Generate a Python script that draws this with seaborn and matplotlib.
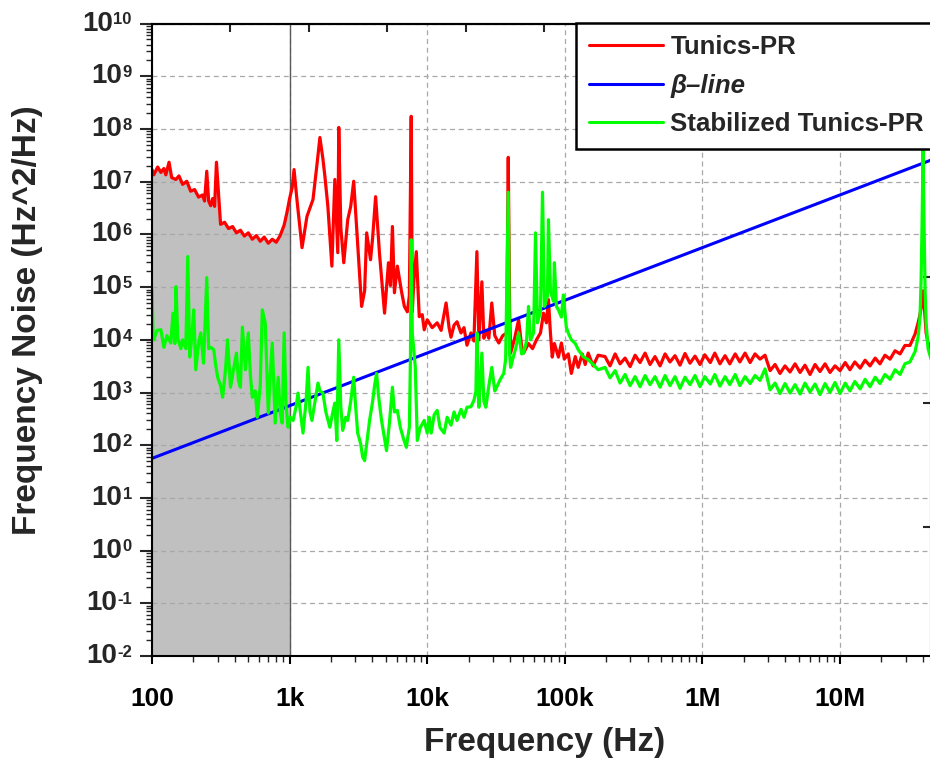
import numpy as np
import pandas as pd
import matplotlib
matplotlib.use("Agg")
import matplotlib.pyplot as plt
import seaborn as sns
from matplotlib import font_manager
from matplotlib.ticker import FixedLocator, LogLocator, NullFormatter, NullLocator

# ---------------- data ----------------
# Tunics-PR (free running laser), 100 Hz .. 175 kHz
red_freq_low = [100, 103, 110, 116, 122, 126, 133, 139, 149, 157,
                167, 179, 191, 204, 218, 233, 241, 250, 258, 267,
                276, 285, 294, 305, 315, 337, 360, 385, 411, 439,
                469, 501, 536, 573, 612, 654, 700, 748, 799, 854,
                913, 959, 1000, 1043, 1077, 1133, 1231, 1337, 1479, 1580,
                1660, 1746, 1805, 1897, 2028, 2131, 2239, 2276, 2355, 2475,
                2644, 2780, 2922, 3070, 3336, 3508, 3631, 3873, 4010, 4216,
                4500, 4897, 5229, 5408, 5586, 5776, 6068, 6490, 6821, 7170,
                7414, 7650, 7790, 8000, 8330, 8750, 9200, 9510, 10000, 10870,
                11810, 12620, 13710, 14410, 14890, 15670, 16470, 17600, 18500, 19450,
                20790, 21840, 22960, 23730, 24950, 25800, 26670, 28040, 29450, 30970,
                33110, 35380, 37840, 38800, 39700, 40370, 43200, 46130, 48530, 50120,
                54450, 58240, 62230, 66530, 69950, 73500, 75990, 78570, 81000, 83970,
                89790, 94420, 99100, 105900, 111500, 119100, 125100, 133800, 140600, 147800,
                160600, 174600]
red_noise_low = [1.7e7, 1.35e7, 1.9e7, 1.5e7, 1.78e7, 1.35e7, 2.34e7, 1.2e7, 1.1e7, 1.29e7,
                 8.9e6, 1.02e7, 6.6e6, 7.1e6, 5.1e6, 5.6e6, 4.3e6, 1.58e7, 4.3e6, 3.5e6,
                 4.8e6, 3.4e6, 2.34e7, 5.4e6, 1.55e6, 1.7e6, 1.29e6, 1.41e6, 1.07e6, 1.2e6,
                 9.3e5, 1.07e6, 8.1e5, 9.5e5, 7.4e5, 8.9e5, 6.8e5, 8.1e5, 7.1e5, 9.5e5,
                 1.51e6, 2.7e6, 4.8e6, 7.6e6, 1.7e7, 4.3e6, 5.6e5, 2.2e6, 4.6e6, 2.1e7,
                 6.9e7, 2.7e7, 1.26e7, 3.4e6, 2.5e5, 1.1e7, 4.5e5, 1.07e8, 1.35e6, 2.9e5,
                 1.9e6, 3.4e6, 1.02e7, 1.35e6, 4.3e4, 8.5e4, 1.07e6, 3.3e5, 8.5e5, 5.2e6,
                 4.3e5, 3.2e4, 2.9e5, 1.07e5, 1.41e6, 7.8e4, 2.5e5, 8.5e4, 4.3e4, 3.4e4,
                 6.8e4, 1.74e8, 3.4e4, 1.35e5, 4.7e5, 2.75e4, 3.0e4, 1.55e4, 2.4e4, 1.7e4,
                 2.1e4, 1.51e4, 5.0e4, 1.7e4, 1.12e4, 1.9e4, 2.2e4, 1.35e4, 1.7e4, 7.9e3,
                 1.35e4, 9.5e3, 4.7e5, 1.0e4, 1.26e5, 1.07e4, 1.51e4, 1.07e4, 5.0e4, 1.2e4,
                 8.7e3, 1.2e4, 1.35e4, 2.9e7, 3.4e4, 5.6e3, 1.07e4, 2.4e4, 7.6e3, 5.6e3,
                 8.5e3, 6.8e3, 1.0e4, 1.35e4, 3.2e4, 2.1e4, 5.8e4, 1.35e4, 4.7e3, 8.5e3,
                 4.7e3, 8.7e3, 4.3e3, 5.4e3, 2.3e3, 4.8e3, 3.0e3, 5.4e3, 3.4e3, 5.6e3,
                 3.2e3, 5.1e3]

# Shared high-frequency sampling (196 kHz .. 35 MHz)
freq_high = [1.96e5, 2.13e5, 2.32e5, 2.52e5, 2.74e5, 2.98e5, 3.24e5, 3.52e5, 3.83e5, 4.16e5,
             4.52e5, 4.92e5, 5.35e5, 5.81e5, 6.32e5, 6.87e5, 7.47e5, 8.12e5, 8.83e5, 9.60e5,
             1.04e6, 1.14e6, 1.23e6, 1.34e6, 1.46e6, 1.58e6, 1.73e6, 1.87e6, 2.04e6, 2.22e6,
             2.41e6, 2.62e6, 2.85e6, 3.10e6, 3.37e6, 3.66e6, 3.98e6, 4.33e6, 4.71e6, 5.12e6,
             5.56e6, 6.05e6, 6.58e6, 7.15e6, 7.78e6, 8.45e6, 9.19e6, 1.00e7, 1.09e7, 1.18e7,
             1.28e7, 1.40e7, 1.52e7, 1.65e7, 1.80e7, 1.95e7, 2.12e7, 2.31e7, 2.51e7, 2.73e7,
             2.96e7, 3.22e7, 3.51e7]
red_noise_high = [4.8e3, 3.2e3, 5.4e3, 3.5e3, 4.5e3, 3.1e3, 5.1e3, 3.7e3, 5.6e3, 3.4e3,
                  4.8e3, 3.2e3, 5.4e3, 3.8e3, 5.0e3, 3.3e3, 5.5e3, 3.6e3, 4.9e3, 3.4e3,
                  5.2e3, 3.7e3, 5.6e3, 3.5e3, 5.0e3, 3.5e3, 5.4e3, 3.8e3, 5.6e3, 3.7e3,
                  5.4e3, 4.3e3, 5.1e3, 2.6e3, 3.4e3, 2.3e3, 3.2e3, 2.45e3, 3.5e3, 2.4e3,
                  3.3e3, 2.2e3, 3.4e3, 2.5e3, 3.5e3, 2.4e3, 3.2e3, 2.6e3, 3.7e3, 2.7e3,
                  3.8e3, 2.9e3, 4.1e3, 3.2e3, 4.5e3, 3.5e3, 5.1e3, 4.3e3, 6.2e3, 5.4e3,
                  7.8e3, 7.8e3, 1.29e4]
green_noise_high = [3.0e3, 1.9e3, 2.6e3, 1.51e3, 2.2e3, 1.35e3, 2.0e3, 1.29e3, 2.1e3, 1.41e3,
                    2.0e3, 1.26e3, 2.1e3, 1.35e3, 2.0e3, 1.2e3, 1.95e3, 1.41e3, 2.1e3, 1.29e3,
                    2.0e3, 1.45e3, 2.2e3, 1.32e3, 2.0e3, 1.41e3, 2.2e3, 1.35e3, 2.0e3, 1.48e3,
                    2.1e3, 1.7e3, 2.8e3, 1.12e3, 1.51e3, 955, 1.48e3, 977, 1.41e3, 933,
                    1.51e3, 1.02e3, 1.45e3, 912, 1.48e3, 1.0e3, 1.55e3, 955, 1.51e3, 1.07e3,
                    1.62e3, 1.17e3, 1.78e3, 1.29e3, 1.95e3, 1.48e3, 2.2e3, 1.78e3, 2.7e3, 2.2e3,
                    3.5e3, 3.8e3, 6.0e3]

# Resonance near 40 MHz
freq_peak = [3.69e7, 3.81e7, 3.88e7, 3.94e7, 4.01e7, 4.07e7, 4.15e7, 4.22e7, 4.36e7, 4.58e7]
red_noise_peak = [2.1e4, 3.0e4, 4.0e4, 5.4e4, 8.5e4, 5.4e4, 2.5e4, 1.35e4, 8.7e3, 6.8e3]
green_noise_peak = [1.12e4, 2.7e4, 1.35e5, 1.35e6, 4.0e7, 2.1e6, 8.5e4, 2.1e4, 6.8e3, 4.3e3]

# Stabilized Tunics-PR, 100 Hz .. 175 kHz
green_freq_low = [100, 101.7, 103, 108.7, 116, 122, 128.3, 137, 142, 146.6,
                  149.5, 154, 162, 167, 176, 182, 188, 194.5, 201, 208,
                  218, 226, 237, 250, 258, 267, 281, 290, 300, 315,
                  326, 342, 354, 372, 391, 411, 425, 439, 454, 477,
                  501, 519, 536, 563, 582, 612, 633, 665, 700, 723,
                  748, 786, 826, 854, 883, 913, 943, 975, 1009, 1060,
                  1114, 1151, 1210, 1251, 1316, 1361, 1406, 1453, 1528, 1607,
                  1660, 1746, 1834, 1960, 2061, 2131, 2203, 2276, 2355, 2432,
                  2558, 2644, 2780, 2922, 3020, 3124, 3283, 3393, 3508, 3631,
                  3811, 4010, 4143, 4285, 4430, 4656, 4897, 5061, 5316, 5586,
                  5776, 6068, 6383, 6710, 7051, 7414, 7550, 7650, 7790, 8190,
                  8470, 8890, 9510, 10000, 10340, 10690, 11240, 11810, 12410, 13270,
                  13950, 14890, 15670, 16470, 17600, 18500, 19450, 20790, 21840, 22590,
                  22960, 23350, 23730, 24950, 25800, 26670, 28040, 29450, 30970, 31990,
                  33650, 35970, 37150, 38800, 39700, 40370, 41780, 43920, 46130, 48530,
                  50120, 52720, 54450, 56340, 59260, 61220, 63300, 66530, 68820, 71120,
                  74740, 75990, 78570, 82600, 83970, 86880, 89790, 94420, 97510, 102500,
                  105900, 111500, 119100, 125100, 136000, 147800, 160600, 174600]
green_noise_low = [8.8e4, 1.4e4, 1.0e4, 1.51e4, 1.55e4, 7.2e3, 1.2e4, 8.7e3, 3.2e4, 8.5e3,
                   1.02e5, 1.07e4, 6.8e3, 1.0e4, 6.8e3, 3.8e5, 4.7e3, 1.07e4, 3.7e4, 2.7e3,
                   8.5e3, 1.35e4, 3.6e3, 1.51e5, 6.8e3, 7.2e3, 6.5e3, 3.4e3, 1.95e3, 1.35e3,
                   813, 2.7e3, 1.0e4, 1.26e3, 2.7e3, 5.6e3, 1.7e3, 1.26e3, 1.74e4, 2.7e3,
                   1.35e4, 2.1e3, 813, 1.07e3, 339, 1.35e3, 3.7e4, 2.1e4, 407, 2.1e3,
                   8.7e3, 263, 1.95e3, 427, 263, 1.35e4, 537, 219, 339, 295,
                   537, 977, 339, 170, 676, 3.0e3, 427, 295, 676, 1.51e3,
                   1.07e3, 977, 427, 219, 427, 631, 123, 1.0e4, 537, 191,
                   339, 295, 676, 1.95e3, 537, 170, 107, 60, 51, 107,
                   295, 676, 1.35e3, 2.3e3, 851, 295, 135, 79, 269, 1.26e3,
                   427, 457, 214, 135, 91, 219, 4.3e3, 7.9e5, 1.35e4, 3.0e3,
                   123, 214, 295, 170, 339, 170, 380, 457, 214, 170,
                   339, 240, 427, 295, 479, 339, 525, 537, 708, 1.07e3,
                   1.35e4, 1.35e3, 525, 5.6e3, 676, 525, 1.35e3, 3.0e3, 1.07e3, 1.26e3,
                   1.7e3, 2.3e3, 4.3e3, 6.3e6, 5.4e3, 3.0e3, 4.3e3, 6.8e3, 1.35e4, 5.4e3,
                   5.6e3, 9.5e3, 4.3e4, 1.0e4, 1.35e4, 1.07e6, 2.1e4, 3.4e4, 6.3e6, 4.3e4,
                   6.8e4, 1.9e6, 8.5e4, 5.4e4, 2.9e5, 4.3e4, 3.7e4, 2.7e4, 7.1e4, 1.74e4,
                   1.35e4, 1.0e4, 8.5e3, 6.5e3, 4.8e3, 4.2e3, 3.4e3, 2.7e3]

# beta-separation line (8 ln2 / pi^2 * f), end points
beta_freq = [100, 4.58e7]
beta_noise = [56.2, 2.57e7]

x_ticks = [1e2, 1e3, 1e4, 1e5, 1e6, 1e7]
x_tick_labels = ["100", "1k", "10k", "100k", "1M", "10M"]
y_exponents = list(range(-2, 11))

# ---------------- tables ----------------
tunics = pd.DataFrame({
    "freq": red_freq_low + freq_high + freq_peak,
    "noise": red_noise_low + red_noise_high + red_noise_peak,
})
stabilized = pd.DataFrame({
    "freq": green_freq_low + freq_high + freq_peak,
    "noise": green_noise_low + green_noise_high + green_noise_peak,
})
beta = pd.DataFrame({"freq": beta_freq, "noise": beta_noise})

# ---------------- style ----------------
sns.set_theme(style="white")
names = {f.name for f in font_manager.fontManager.ttflist}
narrow = "Liberation Sans Narrow" if "Liberation Sans Narrow" in names else "Liberation Sans"
plt.rcParams["font.family"] = ["Liberation Sans", "DejaVu Sans"]
plt.rcParams["font.weight"] = "bold"
plt.rcParams["axes.edgecolor"] = "black"
plt.rcParams["axes.linewidth"] = 1.5

fig = plt.figure(figsize=(9.3, 7.64), dpi=100)
ax = fig.add_axes([152 / 930, 108 / 764, 779 / 930, 632.4 / 764])
ax.set_xscale("log")
ax.set_yscale("log")

# shaded low-frequency band under the free-running trace
low = tunics[tunics["freq"] <= 1000]
ax.fill_between(low["freq"], 1e-2, low["noise"], color="#c0c0c0", lw=0, zorder=0.2)
ax.axvline(1000, color="#5a5a5a", lw=1.0, zorder=0.6)

sns.lineplot(data=tunics, x="freq", y="noise", ax=ax, color="#ff0000", lw=2.3,
             estimator=None, errorbar=None, sort=False, label="Tunics-PR")
sns.lineplot(data=beta, x="freq", y="noise", ax=ax, color="#0000ff", lw=2.2,
             estimator=None, errorbar=None, sort=False, label="\u03b2\u2013line")
sns.lineplot(data=stabilized, x="freq", y="noise", ax=ax, color="#00ff00", lw=2.3,
             estimator=None, errorbar=None, sort=False, label="Stabilized Tunics-PR")

ax.set_xlim(100, 4.58e7)
ax.set_ylim(1e-2, 1e10)

ax.set_axisbelow(True)
ax.grid(True, which="major", color="#a8a8a8", linestyle=(0, (4, 3)), lw=0.9)

# x axis ticks
ax.xaxis.set_major_locator(FixedLocator(x_ticks))
ax.set_xticklabels(x_tick_labels, fontfamily=narrow, fontweight="bold", fontsize=19)
ax.xaxis.set_minor_locator(LogLocator(base=10, subs=np.arange(2, 10), numticks=100))
ax.xaxis.set_minor_formatter(NullFormatter())
ax.tick_params(axis="x", which="major", direction="out", length=6, width=1.5,
               pad=16, bottom=True, top=False, colors="black")
ax.tick_params(axis="x", which="minor", direction="out", length=4, width=1.0,
               bottom=True, top=False)

# y axis ticks
ax.yaxis.set_major_locator(FixedLocator([10.0 ** d for d in y_exponents]))
ax.yaxis.set_major_formatter(NullFormatter())
ax.yaxis.set_minor_locator(LogLocator(base=10, subs=np.arange(2, 10), numticks=100))
ax.yaxis.set_minor_formatter(NullFormatter())
ax.tick_params(axis="y", which="major", direction="out", length=9, width=1.5,
               left=True, right=False)
ax.tick_params(axis="y", which="minor", direction="out", length=4.5, width=1.0,
               left=True, right=False)

# companion scales on top and right (ticks only)
top = ax.secondary_xaxis("top")
top.xaxis.set_major_locator(FixedLocator([10.0 ** e for e in
                                          [2.570, 3.141, 3.711, 4.281, 4.852,
                                           5.422, 5.992, 6.562, 7.133]]))
top.xaxis.set_major_formatter(NullFormatter())
top.xaxis.set_minor_locator(NullLocator())
top.tick_params(direction="in", length=6, width=1.5)
right = ax.secondary_yaxis("right")
right.yaxis.set_major_locator(FixedLocator([10.0 ** e for e in [7.66, 5.19, 2.80, 0.45]]))
right.yaxis.set_major_formatter(NullFormatter())
right.yaxis.set_minor_locator(NullLocator())
right.tick_params(direction="in", length=6, width=1.5)

for s in ax.spines.values():
    s.set_color("black")
    s.set_linewidth(1.5)

ax.set_xlabel("Frequency (Hz)", fontfamily=narrow, fontweight="bold", fontsize=24)
ax.set_ylabel("Frequency Noise (Hz^2/Hz)", fontfamily=narrow, fontweight="bold", fontsize=24)
ax.xaxis.set_label_coords((545 - 152) / 779, (656 - 743) / 632.4)
ax.xaxis.label.set_va("center")
ax.yaxis.set_label_coords((27 - 152) / 779, (656 - 320) / 632.4)
ax.yaxis.label.set_va("center")

# legend
handles, labels = ax.get_legend_handles_labels()
leg = ax.legend(handles, labels, loc="upper left",
                bbox_to_anchor=(576 / 930, 1 - 22.5 / 764), bbox_transform=fig.transFigure,
                prop={"family": "Liberation Sans", "weight": "bold", "size": 18.6},
                handlelength=2.85, handletextpad=0.3, borderpad=0.5, labelspacing=0.55,
                borderaxespad=0, fancybox=False, framealpha=1, edgecolor="black")
leg.get_frame().set_linewidth(1.8)
leg.set_zorder(10)
for ln in leg.get_lines():
    ln.set_linewidth(2.2)
leg.get_texts()[1].set_fontstyle("italic")

# y tick labels as 10 with raised exponent
fig.canvas.draw()
renderer = fig.canvas.get_renderer()
for d in y_exponents:
    ex = ax.annotate(str(d), xy=(0, 10.0 ** d), xycoords=("axes fraction", "data"),
                     xytext=(-14.5, -0.6), textcoords="offset points",
                     ha="right", va="baseline", fontsize=12, fontweight="bold",
                     annotation_clip=False)
    w_pt = ex.get_window_extent(renderer).width * 72 / fig.dpi
    ax.annotate("10", xy=(0, 10.0 ** d), xycoords=("axes fraction", "data"),
                xytext=(-14.5 - w_pt - 0.3, 0), textcoords="offset points",
                ha="right", va="center", fontsize=20, fontweight="bold",
                annotation_clip=False)

fig.savefig("out.png", dpi=100)
